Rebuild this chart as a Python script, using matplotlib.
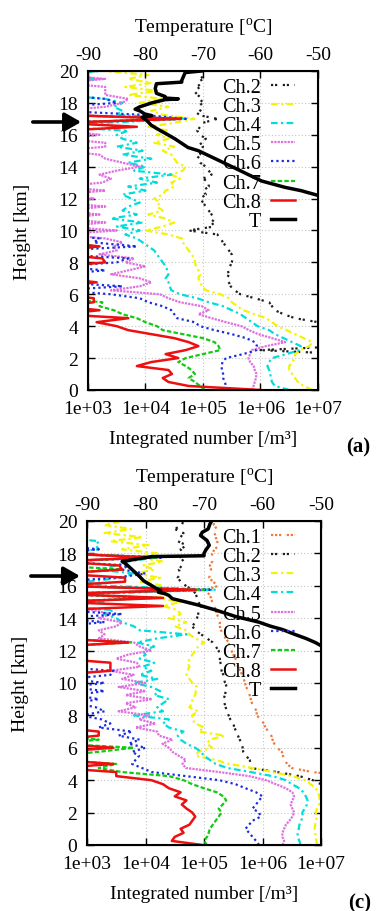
import numpy as np
import matplotlib
matplotlib.use("Agg")
import matplotlib.pyplot as plt
from matplotlib.ticker import NullLocator

plt.rcParams["font.family"] = ["Liberation Serif", "DejaVu Serif"]
plt.rcParams["mathtext.fontset"] = "custom"
plt.rcParams["mathtext.rm"] = "Liberation Serif"
plt.rcParams["font.size"] = 14

# height grid shared by all channel profiles (km)
HEIGHT = np.linspace(0, 20, 81)

# log10 of integrated number [/m3], one value per 0.25 km (rows = 1 km)
# values below 3 / above 7 lie outside the plotted range
CH2_A = [7.5, 7.5, 7.5, 7.5,  7.5, 7.5, 7.5, 7.5,  7.5, 7.5, 6.0, 7.5,  7.5, 7.5, 7.5, 7.5,
         7.5, 7.0, 6.6, 6.4,  6.25, 6.2, 6.15, 5.9,  5.65, 5.55, 5.48, 5.45,  5.42, 5.45, 5.43, 5.47,
         5.5, 5.52, 5.5, 5.45,  5.4, 5.35, 5.3, 5.25,  4.75, 5.2, 5.15, 5.2,  5.15, 5.1, 5.05, 5.0,
         4.95, 5.05, 5.0, 5.1,  5.1, 5.0, 5.15, 5.1,  5.05, 4.95, 4.9, 4.95,  4.95, 5.0, 4.95, 5.05,
         4.95, 4.9, 4.95, 5.0,  5.25, 4.9, 4.95, 5.0,  4.95, 5.0, 4.9, 4.85,  4.95, 4.9, 5.0, 4.95,
         4.95]
CH3_A = [6.9, 6.75, 6.65, 6.6,  6.55, 6.5, 6.5, 6.55,  6.6, 6.6, 6.7, 6.85,  6.9, 6.75, 6.6, 6.45,
         6.3, 6.2, 6.1, 5.9,  5.7, 5.6, 5.5, 5.45,  5.3, 5.05, 4.98, 4.95,  4.92, 4.95, 4.92, 4.88,
         4.86, 4.85, 4.8, 4.75,  4.7, 4.65, 4.63, 4.4,  4.0, 4.3, 4.5, 4.35,  4.05, 4.3, 4.2, 4.25,
         4.15, 4.3, 4.35, 4.5,  4.45, 4.6, 4.45, 4.65,  4.7, 4.55, 4.5, 4.45,  4.3, 4.5, 4.15, 4.4,
         4.2, 4.4, 4.05, 4.5,  4.85, 4.3, 4.1, 4.4,  3.9, 4.3, 3.7, 4.2,  3.65, 4.1, 3.7, 4.05,
         3.3]
CH4_A = [6.5, 6.25, 6.2, 6.18,  6.17, 6.15, 6.12, 6.15,  6.2, 6.45, 6.68, 6.7,  6.55, 6.4, 6.25, 6.15,
         5.95, 5.85, 5.75, 5.65,  5.5, 5.35, 5.1, 4.9,  4.6, 4.45, 4.42, 4.4,  4.35, 4.4, 4.38, 4.35,
         4.3, 4.25, 4.2, 4.15,  4.05, 3.95, 3.85, 3.65,  3.9, 3.5, 3.95, 3.4,  3.85, 3.6, 3.7, 3.9,
         3.75, 3.6, 4.0, 3.7,  4.2, 3.9, 4.45, 3.8,  4.0, 3.7, 4.1, 3.6,  3.95, 3.5, 3.85, 3.6,
         3.5, 3.7, 2.5, 3.3,  4.7, 3.5, 3.6, 3.45,  3.6, 3.3, 2.5, 2.5,  2.5, 2.5, 3.2, 2.5,
         3.2]
CH5_A = [5.85, 5.88, 5.9, 5.92,  5.93, 5.9, 5.88, 5.82,  5.79, 5.82, 5.85, 6.1,  6.43, 6.2, 5.96, 5.8,
         5.67, 5.4, 5.15, 4.92,  5.1, 4.98, 4.6, 4.4,  4.25, 3.4, 3.9, 4.1,  3.9, 3.4, 3.7, 4.0,
         3.65, 3.8, 3.2, 3.5,  3.45, 3.6, 3.3, 2.5,  3.5, 2.5, 3.3, 2.5,  3.2, 2.5, 3.3, 2.5,
         3.1, 2.5, 3.3, 2.5,  3.25, 3.4, 3.2, 3.5,  3.9, 3.6, 3.3, 3.2,  2.5, 3.3, 3.3, 2.5,
         3.2, 2.5, 2.5, 2.5,  4.6, 2.5, 2.5, 3.3,  3.6, 3.7, 3.3, 3.3,  3.3, 2.5, 3.3, 2.5,
         2.5]
CH6_A = [5.42, 5.4, 5.38, 5.35,  5.35, 5.33, 5.32, 5.34,  5.4, 5.7, 5.93, 5.94,  5.9, 5.75, 5.5, 5.2,
         4.95, 4.85, 4.55, 4.5,  4.45, 4.3, 4.05, 3.9,  3.4, 2.5, 3.6, 2.5,  2.5, 2.5, 3.3, 2.5,
         3.5, 3.7, 2.5, 2.5,  3.85, 3.1, 3.2, 2.5,  2.5, 2.5, 2.5, 2.5,  2.5, 2.5, 2.5, 2.5,
         2.5, 2.5, 2.5, 2.5,  2.5, 2.5, 2.5, 2.5,  2.5, 2.5, 2.5, 2.5,  2.5, 2.5, 2.5, 2.5,
         2.5, 2.5, 2.5, 2.5,  4.7, 3.95, 2.5, 2.5,  3.5, 3.3, 2.5, 2.5,  2.5, 2.5, 2.5, 2.5,
         2.5]
CH7_A = [5.03, 4.95, 4.86, 4.75,  4.86, 4.8, 4.7, 4.57,  4.7, 5.0, 5.3, 5.27,  5.2, 5.0, 4.65, 4.3,
         4.2, 4.0, 3.85, 3.6,  3.45, 3.2, 3.25, 2.5,  2.5, 2.5, 2.5, 2.5,  2.5, 2.5, 2.5, 2.5,
         2.5, 2.5, 2.5, 2.5,  3.2, 2.5, 2.5, 2.5,  2.5, 2.5, 2.5, 2.5,  2.5, 2.5, 2.5, 2.5,
         2.5, 2.5, 2.5, 2.5,  2.5, 2.5, 2.5, 2.5,  2.5, 2.5, 2.5, 2.5,  2.5, 2.5, 2.5, 2.5,
         2.5, 2.5, 2.5, 2.5,  4.6, 2.5, 2.5, 2.5,  2.5, 2.5, 2.5, 2.5,  2.5, 2.5, 2.5, 2.5,
         2.5]
CH8_A = [6.0, 4.75, 4.4, 4.3,  4.46, 4.4, 3.85, 4.1,  4.57, 4.35, 4.7, 4.92,  4.75, 4.5, 4.1, 3.7,
         3.5, 3.15, 3.7, 2.5,  3.2, 2.5, 3.1, 3.1,  2.5, 2.5, 2.5, 3.15,  2.5, 2.5, 2.5, 2.5,
         3.3, 3.25, 2.5, 2.5,  3.2, 2.5, 2.5, 2.5,  2.5, 2.5, 2.5, 2.5,  2.5, 2.5, 2.5, 2.5,
         2.5, 2.5, 2.5, 2.5,  2.5, 2.5, 2.5, 2.5,  2.5, 2.5, 2.5, 2.5,  2.5, 2.5, 2.5, 2.5,
         2.5, 2.5, 3.85, 2.5,  4.6, 2.5, 2.5, 2.5,  2.5, 2.5, 2.5, 2.5,  2.5, 2.5, 2.5, 2.5,
         2.5]

CH1_C = [7.5, 7.5, 7.5, 7.5,  7.5, 7.5, 7.5, 7.5,  7.5, 7.5, 7.5, 7.5,  7.5, 7.5, 7.5, 7.5,
         7.5, 7.5, 6.85, 6.5,  6.42, 6.38, 6.35, 6.33,  6.25, 6.2, 6.17, 6.15,  6.1, 6.05, 6.02, 5.97,
         5.9, 5.9, 5.86, 5.82,  5.8, 5.78, 5.76, 5.72,  5.7, 5.68, 5.65, 5.62,  5.58, 5.56, 5.54, 5.5,
         5.47, 5.44, 5.42, 5.37,  5.33, 5.29, 5.27, 5.27,  5.25, 5.22, 5.2, 5.18,  5.14, 5.12, 5.08, 5.03,
         5.25, 5.15, 5.09, 5.1,  5.12, 5.1, 5.14, 5.13,  5.14, 5.18, 5.26, 5.22,  5.2, 5.18, 5.22, 5.17,
         5.16]
CH2_C = [7.5, 7.5, 7.5, 7.5,  7.5, 7.5, 7.5, 7.5,  7.5, 7.5, 7.5, 7.5,  7.5, 7.5, 7.5, 7.0,
         6.86, 6.63, 6.25, 5.8,  5.8, 5.78, 5.72, 5.67,  5.66, 5.65, 5.61, 5.58,  5.55, 5.52, 5.5, 5.45,
         5.42, 5.39, 5.37, 5.35,  5.33, 5.36, 5.37, 5.39,  5.36, 5.34, 5.33, 5.3,  5.3, 5.28, 5.27, 5.26,
         5.25, 5.2, 5.15, 5.05,  4.95, 4.85, 4.8, 4.85,  4.88, 4.9, 4.91, 4.95,  4.9, 4.88, 4.86, 4.8,
         4.69, 4.6, 4.55, 4.6,  4.57, 4.62, 4.65, 4.6,  4.63, 4.6, 4.7, 4.55,  4.6, 4.65, 4.5, 4.62,
         4.65]
CH3_C = [6.94, 6.92, 6.91, 6.9,  6.89, 6.9, 6.91, 6.93,  6.91, 6.93, 6.97, 6.98,  6.97, 6.95, 6.91, 6.82,
         6.74, 6.51, 6.17, 5.83,  5.43, 5.2, 4.86, 4.9,  5.14, 5.05, 5.1, 5.35,  4.91, 5.0, 4.85, 4.8,
         4.8, 4.9, 4.75, 4.8,  4.8, 4.85, 4.86, 4.88,  4.8, 4.75, 4.7, 4.72,  4.75, 4.72, 4.76, 4.8,
         4.85, 4.9, 5.0, 4.85,  4.75, 4.7, 4.5, 4.7,  4.4, 4.6, 4.55, 4.3,  4.6, 4.2, 4.4, 4.1,
         4.3, 3.9, 4.25, 3.8,  4.15, 3.95, 4.3, 3.85,  4.2, 3.6, 4.05, 3.4,  3.95, 3.3, 3.75, 3.3,
         3.6]
CH4_C = [6.65, 6.63, 6.6, 6.6,  6.62, 6.63, 6.66, 6.69,  6.68, 6.72, 6.76, 6.77,  6.74, 6.7, 6.63, 6.5,
         6.4, 6.17, 5.8, 5.4,  5.2, 5.1, 5.0, 4.95,  4.85, 4.7, 4.6, 4.55,  4.65, 4.4, 4.3, 4.4,
         3.8, 4.3, 4.2, 4.3,  4.4, 4.15, 4.25, 4.1,  3.8, 4.2, 3.9, 4.1,  3.95, 4.15, 3.9, 4.0,
         3.95, 4.15, 3.85, 4.2,  4.7, 3.9, 3.8, 3.6,  3.5, 3.3, 3.45, 2.5,  3.3, 2.5, 3.1, 5.2,
         3.3, 3.0, 3.6, 3.8,  3.2, 3.5, 3.7, 4.2,  2.5, 3.2, 3.15, 3.2,  2.5, 2.5, 2.5, 2.5,
         2.5]
CH5_C = [6.34, 6.37, 6.34, 6.34,  6.37, 6.4, 6.46, 6.51,  6.54, 6.51, 6.48, 6.51,  6.54, 6.51, 6.4, 6.23,
         6.06, 5.77, 5.26, 4.69,  4.63, 4.69, 4.57, 4.46,  4.4, 4.29, 4.46, 4.23,  4.2, 3.83, 4.17, 3.89,
         4.06, 3.54, 3.83, 3.66,  4.11, 3.66, 4.0, 3.54,  4.0, 3.6, 3.8, 3.4,  3.9, 3.85, 3.5, 3.7,
         4.1, 3.9, 3.8, 3.2,  3.3, 3.2, 3.5, 3.6,  3.2, 3.4, 3.1, 2.5,  3.0, 2.5, 2.5, 5.0,
         2.5, 2.5, 2.5, 2.5,  2.5, 2.5, 2.5, 4.2,  2.5, 2.5, 2.5, 2.5,  2.5, 2.5, 2.5, 2.5,
         2.5]
CH6_C = [5.94, 5.89, 5.83, 5.77,  5.71, 5.77, 5.83, 5.97,  5.94, 5.83, 5.89, 5.94,  6.0, 5.89, 5.71, 5.54,
         5.26, 4.69, 4.11, 3.94,  3.77, 3.83, 3.89, 3.77,  4.0, 3.71, 3.9, 3.54,  3.77, 3.2, 3.4, 3.25,
         2.9, 3.3, 3.15, 2.8,  3.2, 2.8, 3.3, 2.7,  3.3, 2.7, 3.4, 3.45,  2.5, 2.5, 2.5, 2.5,
         2.5, 2.5, 2.5, 2.5,  2.5, 2.5, 2.5, 3.3,  2.5, 3.6, 2.5, 2.5,  2.5, 4.1, 2.5, 5.1,
         2.5, 2.5, 3.5, 4.0,  3.6, 3.7, 2.5, 4.3,  2.5, 3.2, 2.5, 2.5,  2.5, 2.5, 2.5, 2.5,
         2.5]
CH7_C = [5.05, 5.0, 5.05, 5.08,  5.1, 5.15, 5.2, 5.25,  5.3, 5.25, 5.32, 5.38,  5.33, 5.22, 5.0, 4.8,
         4.65, 4.4, 3.6, 3.2,  3.5, 2.5, 2.5, 3.2,  3.8, 2.5, 3.2, 2.5,  2.5, 2.5, 2.5, 2.5,
         2.5, 2.5, 2.5, 2.5,  2.5, 2.5, 2.5, 2.5,  2.5, 2.5, 2.5, 2.5,  2.5, 2.5, 2.5, 2.5,
         2.5, 2.5, 3.75, 2.5,  2.5, 2.5, 2.5, 2.5,  2.5, 2.5, 2.5, 2.5,  2.5, 4.2, 2.5, 5.0,
         2.5, 2.5, 2.5, 2.5,  3.6, 2.5, 2.5, 4.2,  2.5, 2.5, 2.5, 2.5,  2.5, 2.5, 2.5, 2.5,
         2.5]
CH8_C = [4.97, 4.45, 4.5, 4.65,  4.6, 4.75, 4.8, 4.85,  4.8, 4.7, 4.62, 4.7,  4.5, 4.6, 4.4, 4.3,
         4.1, 3.5, 3.5, 2.5,  3.45, 2.5, 2.5, 2.5,  3.45, 2.5, 2.5, 3.2,  3.2, 2.5, 2.5, 2.5,
         2.5, 2.5, 2.5, 2.5,  2.5, 2.5, 2.5, 2.5,  2.5, 2.5, 2.5, 3.4,  3.4, 3.4, 2.5, 2.5,
         2.5, 2.5, 3.7, 2.5,  2.5, 2.5, 2.5, 2.5,  2.5, 2.5, 2.5, 4.3,  2.5, 4.3, 2.5, 4.86,
         2.5, 3.65, 3.65, 2.5,  3.6, 3.55, 2.5, 4.06,  2.5, 2.5, 2.5, 2.5,  2.5, 2.5, 2.5, 2.5,
         2.5]

# temperature profiles (deg C) on their own heights (km)
T_HEIGHT_A = [12.2, 12.5, 12.7, 13.1, 13.5, 13.9, 14.4, 15.0, 15.2, 15.75, 16.1, 16.4, 16.6,
              16.9, 17.1, 17.2, 17.3, 17.5, 17.6, 17.75, 18.0, 18.2, 18.25, 18.3, 18.4, 18.6,
              18.9, 19.2, 19.3, 19.4, 19.9, 20.0]
T_A = [-50.0, -53.0, -55.7, -59.8, -62.1, -64.4, -67.3, -70.8, -72.6, -74.9, -76.6, -78.1, -79.0,
       -79.8, -80.6, -78.9, -80.1, -81.0, -81.8, -81.0, -78.9, -76.6, -74.3, -76.6, -76.6, -78.1,
       -78.3, -78.1, -73.7, -73.7, -73.1, -70.2]
T_HEIGHT_C = [12.3, 12.5, 12.75, 13.0, 13.3, 13.5, 13.75, 14.1, 14.5, 14.8, 15.0, 15.2, 15.4,
              15.5, 15.6, 15.7, 15.8, 16.0, 16.3, 16.6, 16.9, 17.2, 17.36, 17.5, 17.6, 17.8,
              17.85, 18.0, 18.2, 18.5, 18.8, 19.1, 19.3, 19.5, 19.8, 20.0]
T_C = [-50.0, -51.0, -52.6, -54.5, -56.6, -58.6, -60.6, -64.6, -68.0, -70.9, -73.1, -75.4, -76.0,
       -76.6, -77.8, -77.4, -78.0, -78.9, -80.3, -81.1, -82.0, -82.9, -83.4, -84.0, -82.3, -78.9,
       -70.0, -70.0, -69.7, -69.1, -69.5, -70.6, -70.3, -69.3, -69.0, -68.7]

X_TICKS = [1e3, 1e4, 1e5, 1e6, 1e7]
X_LABELS = ["1e+03", "1e+04", "1e+05", "1e+06", "1e+07"]
T_TICKS = [-90, -80, -70, -60, -50]

STYLES = {
    "Ch.1": dict(color="#f07838", ls=(0, (1, 0.8, 1, 0.8, 1, 2.5)), lw=1.6),
    "Ch.2": dict(color="#202020", ls=(0, (1, 0.8, 1, 2.5)), lw=1.6),
    "Ch.3": dict(color="#f4f400", ls=(0, (3, 1.5, 1, 1.5)), lw=1.6),
    "Ch.4": dict(color="#00dddd", ls=(0, (3, 1.5, 1, 1.5)), lw=1.6),
    "Ch.5": dict(color="#e070e0", ls=(0, (1, 0.5)), lw=1.6),
    "Ch.6": dict(color="#1c2ce0", ls=(0, (1, 1.4)), lw=1.6),
    "Ch.7": dict(color="#10cc10", ls=(0, (2, 1)), lw=1.6),
    "Ch.8": dict(color="#ee1010", ls="-", lw=1.8),
}


def draw_panel(ax, series, t_height, t_vals, arrow_h, leg_x):
    for name, vals in series:
        ax.plot(10.0 ** np.array(vals), HEIGHT, label=name, **STYLES[name])
    ax.set_xscale("log")
    ax.set_xlim(1e3, 1e7)
    ax.set_ylim(0, 20)
    ax.set_xticks(X_TICKS)
    ax.set_xticklabels(X_LABELS)
    ax.xaxis.set_minor_locator(NullLocator())
    ax.set_yticks(range(0, 21, 2))
    ax.yaxis.set_ticks_position("both")
    ax.tick_params(axis="x", direction="in", length=5, width=1, pad=7, top=False)
    ax.tick_params(axis="y", direction="in", length=5, width=1, pad=7)
    ax.grid(True, color="#c4c4c4", ls=(0, (1, 2)), lw=0.8)
    for s in ax.spines.values():
        s.set_linewidth(1.5)
    ax.set_ylabel("Height [km]")
    ax.yaxis.set_label_coords(-0.248, 0.5)
    ax.set_xlabel("Integrated number [/m\u00b3]")
    ax.xaxis.set_label_coords(0.5, -0.125)

    axt = ax.twiny()
    axt.plot(t_vals, t_height, color="black", lw=2.5, label="T")
    axt.set_xlim(-90, -50)
    axt.set_xticks(T_TICKS)
    axt.set_xticklabels([str(t) for t in T_TICKS])
    axt.tick_params(axis="x", direction="in", length=5, width=1, pad=6)
    axt.set_xlabel(r"Temperature [$^{\mathrm{o}}$C]")
    axt.xaxis.set_label_coords(0.5, 1.12)

    h1, l1 = ax.get_legend_handles_labels()
    h2, l2 = axt.get_legend_handles_labels()
    axt.legend(h1 + h2, l1 + l2, loc="upper right", bbox_to_anchor=(leg_x, 0.978),
               frameon=False, markerfirst=False, handlelength=1.2, handletextpad=0.5,
               labelspacing=0.0, borderpad=0, borderaxespad=0, fontsize=14.5)

    ax.annotate("", xy=(-0.03, arrow_h), xycoords=("axes fraction", "data"),
                xytext=(-0.24, arrow_h), textcoords=("axes fraction", "data"),
                arrowprops=dict(arrowstyle="-|>,head_length=0.7,head_width=0.4",
                                lw=2.6, color="black", mutation_scale=14,
                                shrinkA=0, shrinkB=0),
                annotation_clip=False)


fig = plt.figure(figsize=(3.77, 9.12), dpi=100)
ax_a = fig.add_axes([0.2334, 0.5713, 0.6101, 0.3498])
ax_c = fig.add_axes([0.2308, 0.0724, 0.6207, 0.3553])

draw_panel(ax_a, [("Ch.2", CH2_A), ("Ch.3", CH3_A), ("Ch.4", CH4_A), ("Ch.5", CH5_A),
                  ("Ch.6", CH6_A), ("Ch.7", CH7_A), ("Ch.8", CH8_A)],
           T_HEIGHT_A, T_A, 16.8, 0.90)
draw_panel(ax_c, [("Ch.1", CH1_C), ("Ch.2", CH2_C), ("Ch.3", CH3_C), ("Ch.4", CH4_C),
                  ("Ch.5", CH5_C), ("Ch.6", CH6_C), ("Ch.7", CH7_C), ("Ch.8", CH8_C)],
           T_HEIGHT_C, T_C, 16.6, 0.889)

fig.text(358 / 377, 1 - 447 / 912, "(a)", fontsize=15, fontweight="bold", ha="center", va="center")
fig.text(360 / 377, 1 - 903 / 912, "(c)", fontsize=15, fontweight="bold", ha="center", va="center")

fig.savefig("out.png", dpi=100)
